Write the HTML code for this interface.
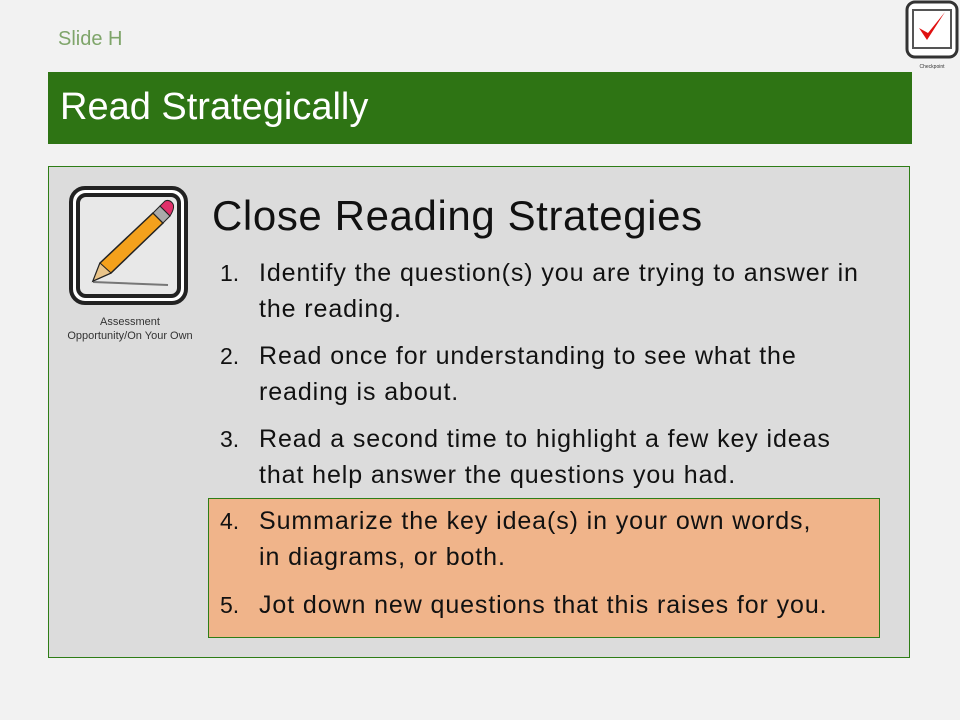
<!DOCTYPE html>
<html><head><meta charset="utf-8"><style>
body{margin:0;width:960px;height:720px;background:#f2f2f2;position:relative;overflow:hidden;font-family:"Liberation Sans",sans-serif}
.abs{position:absolute}
.t{position:absolute;font-size:25px;letter-spacing:0.9px;color:#111;white-space:nowrap;line-height:1}
.n{position:absolute;font-size:23px;color:#111;line-height:1}
</style></head><body>
<div class="abs" style="left:58px;top:28px;font-size:20px;color:#7fa56a">Slide H</div>
<div class="abs" style="left:48px;top:72px;width:864px;height:72px;background:#2e7414"></div>
<div class="abs" style="left:60px;top:86px;font-size:38px;color:#fff">Read Strategically</div>
<svg class="abs" style="left:905px;top:0" width="55" height="72">
<rect x="2" y="2" width="50" height="55" rx="8" fill="#fff" stroke="#333" stroke-width="3"/>
<rect x="8" y="10" width="38" height="38" fill="#fff" stroke="#555" stroke-width="2"/>
<path d="M14 28 L22 40 L40 12 L23 33 Z" fill="#e01010"/>
<text x="27" y="68" font-size="5" text-anchor="middle" fill="#333">Checkpoint</text></svg>
<div class="abs" style="left:48px;top:166px;width:860px;height:490px;background:#dcdcdc;border:1.5px solid #2e7d16"></div>
<svg class="abs" style="left:68px;top:185px" width="122" height="122">
<rect x="3" y="3" width="115" height="115" rx="14" fill="#fff" stroke="#222" stroke-width="4"/>
<rect x="10" y="10" width="101" height="101" rx="8" fill="#e8e8e8" stroke="#222" stroke-width="4"/>
<line x1="25" y1="97" x2="100" y2="100" stroke="#777" stroke-width="2"/>
<path d="M25 96 L32 78 L85 28 L95 38 L43 88 Z" fill="#f4a11c" stroke="#222" stroke-width="1.5"/>
<path d="M85 28 L92 21 L102 31 L95 38 Z" fill="#aaa" stroke="#222"/>
<path d="M92 21 L97 16 Q102 14 105 19 Q107 23 102 31 Z" fill="#e0306a" stroke="#222"/>
<path d="M25 96 L32 78 L43 88 Z" fill="#e9c48a" stroke="#222"/></svg>
<div class="abs" style="left:50px;top:315px;width:160px;text-align:center;font-size:11px;color:#333;line-height:14px">Assessment<br>Opportunity/On Your Own</div>
<div class="abs" style="left:212px;top:192px;font-size:42px;letter-spacing:0.6px;color:#111">Close Reading Strategies</div>
<div class="abs" style="left:208px;top:498px;width:670px;height:138px;background:#f0b48a;border:1.5px solid #2e7d16"></div>
<div>
<div class="n" style="left:220px;top:262px">1.</div><div class="t" style="left:259px;top:261px">Identify the question(s) you are trying to answer in<br><span style="position:relative;top:11px">the reading.</span></div>
<div class="n" style="left:220px;top:345px">2.</div><div class="t" style="left:259px;top:344px">Read once for understanding to see what the<br><span style="position:relative;top:11px">reading is about.</span></div>
<div class="n" style="left:220px;top:428px">3.</div><div class="t" style="left:259px;top:427px">Read a second time to highlight a few key ideas<br><span style="position:relative;top:11px">that help answer the questions you had.</span></div>
<div class="n" style="left:220px;top:510px">4.</div><div class="t" style="left:259px;top:509px">Summarize the key idea(s) in your own words,<br><span style="position:relative;top:11px">in diagrams, or both.</span></div>
<div class="n" style="left:220px;top:594px">5.</div><div class="t" style="left:259px;top:593px">Jot down new questions that this raises for you.</div>
</div>
</body></html>
